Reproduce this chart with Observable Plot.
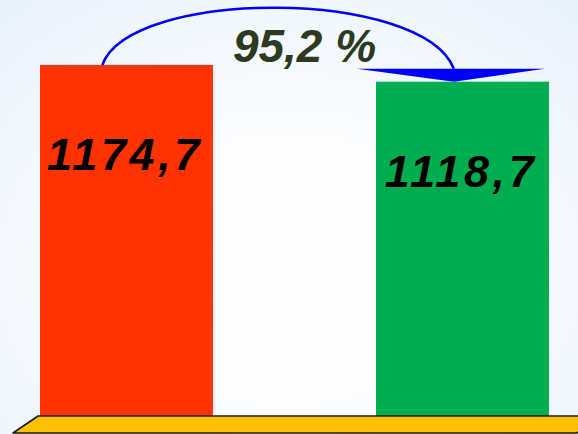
<!DOCTYPE html>
<html><head><meta charset="utf-8">
<script src="https://cdn.jsdelivr.net/npm/d3@7"></script>
<script src="https://cdn.jsdelivr.net/npm/@observablehq/plot@0.6"></script>
<style>
html,body{margin:0;padding:0;width:578px;height:434px;overflow:hidden;}
body{background: radial-gradient(ellipse 75% 80% at 50% 62%, #ffffff 0%, #fbfdff 40%, #e8f2fd 100%);}
#chart svg{display:block;}
</style></head><body><div id="chart"></div>
<script>
const categories = ["prev", "curr"];
const values = [1174.7, 1118.7];
const valueLabels = ["1174,7", "1118,7"];
const colors = ["#ff3300", "#00ae50"];
const percentLabel = "95,2 %";

const data = categories.map((c, i) => ({cat: c, value: values[i], label: valueLabels[i], color: colors[i]}));
const font = "'Liberation Sans', Arial, sans-serif";

const plot = Plot.plot({
  width: 578, height: 434,
  marginTop: 0, marginBottom: 18, marginLeft: 40, marginRight: 28,
  style: {background: "transparent", overflow: "visible"},
  x: {domain: categories, paddingInner: 0.484, paddingOuter: 0, axis: null},
  y: {domain: [0, 1392], axis: null},
  marks: [
    Plot.barY(data, {x: "cat", y: "value", fill: "color"}),
    Plot.text(data, {x: "cat", y: "value", text: "label", dy: 90, dx: -2,
      fontSize: 45, fontWeight: "bold", fontStyle: "italic", fill: "black", fontFamily: font,
      style: {letterSpacing: "3.6px"}})
  ]
});
document.getElementById("chart").append(plot);
plot.querySelectorAll("text").forEach(t => t.style.letterSpacing = "3.6px");

const sx = plot.scale("x"), sy = plot.scale("y");
const bw = sx.bandwidth;
const svg = d3.select(plot);
const y0 = sy.apply(0);
const left0 = sx.apply(categories[0]);

// floor (3D base)
svg.append("polygon")
  .attr("points", [[left0 - 2, y0], [602, y0], [577, y0 + 17], [left0 - 27, y0 + 17]].map(p => p.join(",")).join(" "))
  .attr("fill", "#ffc000").attr("stroke", "#1a1a1a").attr("stroke-width", 1.6).attr("stroke-linejoin", "round");

// arc arrow
const sxp = sx.apply(categories[0]) + 0.36 * bw, syp = sy.apply(values[0]);
const tipX = sx.apply(categories[1]) + 0.45 * bw, tipY = sy.apply(values[1]);
const exp = tipX, eyp = tipY - 13;
svg.append("path")
  .attr("d", `M${sxp},${syp} C${sxp + 28},-12 ${exp - 32},-12 ${exp},${eyp}`)
  .attr("fill", "none").attr("stroke", "#0000ff").attr("stroke-width", 2.6);
svg.append("polygon")
  .attr("points", [[tipX - 97, eyp], [tipX + 91, eyp], [tipX, tipY]].map(p => p.join(",")).join(" "))
  .attr("fill", "#0000ff");

// percent label
const c0 = sx.apply(categories[0]) + bw / 2, c1 = sx.apply(categories[1]) + bw / 2;
svg.append("text")
  .attr("x", (c0 + c1) / 2 + 10).attr("y", 62)
  .attr("text-anchor", "middle")
  .attr("font-family", font).attr("font-size", 46).attr("font-weight", "bold").attr("font-style", "italic")
  .attr("fill", "#2c3a22")
  .text(percentLabel);
</script></body></html>
